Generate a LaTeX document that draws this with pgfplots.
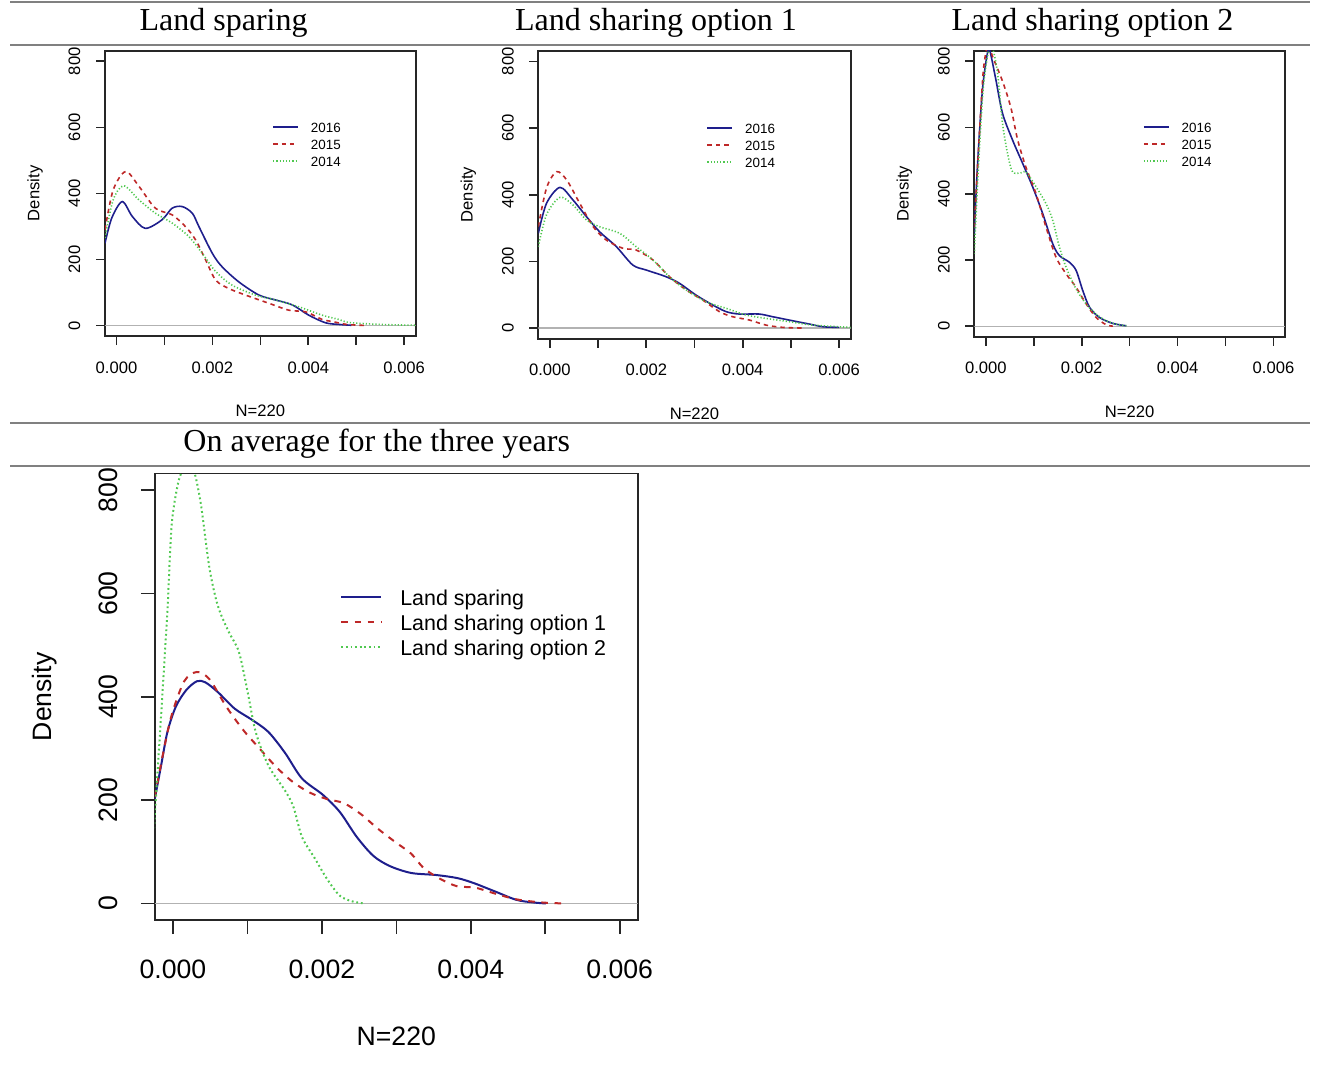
\documentclass[border=0pt]{standalone}
\usepackage{fontspec}
\setmainfont{Liberation Sans}
\newfontfamily\timesfont{Liberation Serif}
\usepackage{pgfplots}
\pgfplotsset{compat=1.18}
\definecolor{rblue}{RGB}{30,30,140}
\definecolor{rred}{RGB}{190,40,40}
\definecolor{rgreen}{RGB}{80,200,80}
\definecolor{rule}{RGB}{128,128,128}

\pgfplotsset{
  rdens/.style={
    scale only axis, anchor=north west,
    xmin=-0.00024, xmax=0.00624, ymin=-32, ymax=832,
    xtick={0,0.001,0.002,0.003,0.004,0.005,0.006},
    xticklabels={0.000,,0.002,,0.004,,0.006},
    ytick={0,200,400,600,800},
    tick pos=left, tick align=outside,
    scaled x ticks=false,
    /pgf/number format/assume math mode=true,
    axis line style={line width=0.9pt, black!85},
    tick style={line width=0.8pt, black!85},
    legend cell align=left,
    legend style={draw=none, fill=none, anchor=north west, inner sep=0pt, row sep=0pt},
  },
  topp/.style={
    rdens,
    major tick length=4.5pt,
    ticklabel style={font=\fontsize{8.3}{10}\selectfont, inner sep=0pt},
    xticklabel style={anchor=center, yshift=-11.25pt},
    yticklabel style={xshift=-10.75pt, rotate=90, anchor=center},
    every axis x label/.style={at={(axis description cs:0.5,0)}, anchor=center, yshift=-37.5pt, font=\fontsize{8.3}{10}\selectfont},
    every axis y label/.style={at={(axis description cs:0,0.5)}, xshift=-35pt, rotate=90, anchor=center, font=\fontsize{8.3}{10}\selectfont},
    legend style={font=\fontsize{6.7}{8}\selectfont,
      nodes={inner sep=0pt, text height=5.5pt, text depth=3pt},
      column sep=6pt},
    legend image code/.code={\draw[#1] (0pt,1.7pt) -- (12.5pt,1.7pt);},
    every axis plot/.append style={line width=0.8pt},
  },
  botp/.style={
    rdens,
    major tick length=7pt,
    ticklabel style={font=\fontsize{13.3}{16}\selectfont, inner sep=0pt},
    xticklabel style={anchor=center, yshift=-17.5pt},
    yticklabel style={xshift=-16.25pt, rotate=90, anchor=center},
    every axis x label/.style={at={(axis description cs:0.5,0)}, anchor=center, yshift=-58.3pt, font=\fontsize{13.3}{16}\selectfont},
    every axis y label/.style={at={(axis description cs:0,0.5)}, xshift=-55.25pt, rotate=90, anchor=center, font=\fontsize{13.3}{16}\selectfont},
    legend style={font=\fontsize{10.7}{13}\selectfont,
      nodes={inner sep=0pt, text height=8pt, text depth=4.5pt},
      column sep=9pt},
    legend image code/.code={\draw[#1] (0pt,2.7pt) -- (20pt,2.7pt);},
    every axis plot/.append style={line width=1pt},
  },
  s16/.style={rblue, solid, smooth},
  s15/.style={rred, dash pattern=on 2.2pt off 2pt, smooth},
  s14/.style={rgreen, dash pattern=on 0.6pt off 1pt, smooth},
}

\begin{document}
\begin{tikzpicture}
\useasboundingbox (0,0) rectangle (658.5pt,-538.5pt);

% rules of the table
\draw[rule, line width=1pt] (5pt,-1pt) -- (655pt,-1pt);
\draw[rule, line width=1pt] (5pt,-22.5pt) -- (655pt,-22.5pt);
\draw[rule, line width=1pt] (5pt,-211.5pt) -- (655pt,-211.5pt);
\draw[rule, line width=1pt] (5pt,-233pt) -- (655pt,-233pt);

% titles
\node[font=\timesfont\fontsize{16}{19}\selectfont, anchor=base] at (111.8pt,-15pt) {Land sparing};
\node[font=\timesfont\fontsize{16}{19}\selectfont, anchor=base] at (328pt,-15pt) {Land sharing option 1};
\node[font=\timesfont\fontsize{16}{19}\selectfont, anchor=base] at (546.25pt,-15pt) {Land sharing option 2};
\node[font=\timesfont\fontsize{16}{19}\selectfont, anchor=base] at (188.35pt,-225.8pt) {On average for the three years};

% Land sparing
\begin{axis}[topp, at={(52.5pt,-25.35pt)}, width=155.35pt, height=142.65pt,
  xlabel={N=220}, ylabel={Density},
  legend style={at={(axis cs:0.003242,618)}}]
\addplot[gray!60, line width=0.6pt, forget plot] coordinates {(-0.00024,0) (0.00624,0)};
\addplot[s16] coordinates {(-0.00024,249) (-0.0001,325) (0.00012,375) (0.00033,330) (0.0006,294) (0.00095,320) (0.00116,355) (0.00137,360) (0.00158,340) (0.00172,299) (0.002,218) (0.0022,178) (0.00255,132) (0.00297,92) (0.00332,77) (0.00367,62) (0.00401,31) (0.00436,8) (0.00464,3) (0.0049,0.5)};
\addlegendentry{2016}
\addplot[s15] coordinates {(-0.00024,290) (-0.00007,410) (0.00019,466) (0.00047,421) (0.00081,355) (0.00116,335) (0.00144,299) (0.00165,259) (0.00186,198) (0.00207,137) (0.00234,112) (0.00269,92) (0.00318,67) (0.0036,46) (0.00395,41) (0.00429,18) (0.0045,12) (0.0048,3) (0.0052,0)};
\addlegendentry{2015}
\addplot[s14] coordinates {(-0.00024,265) (-0.00007,380) (0.00015,423) (0.00047,380) (0.00081,340) (0.00116,310) (0.00151,269) (0.00179,218) (0.00207,163) (0.00241,122) (0.0029,92) (0.00332,77) (0.00381,56) (0.00429,31) (0.00464,18) (0.00485,9) (0.0055,3) (0.00624,0.5)};
\addlegendentry{2014}
\end{axis}

% Land sharing option 1
\begin{axis}[topp, at={(269.15pt,-25.35pt)}, width=156.2pt, height=144pt,
  xlabel={N=220}, ylabel={Density},
  legend style={at={(axis cs:0.003242,617)}}]
\addplot[gray!60, line width=0.6pt, forget plot] coordinates {(-0.00024,0) (0.00624,0)};
\addplot[s16] coordinates {(-0.00024,284) (-0.00007,374) (0.00021,422) (0.00048,384) (0.00076,334) (0.00103,289) (0.00138,244) (0.00172,189) (0.002,174) (0.00241,154) (0.00269,134) (0.00303,99) (0.00338,69) (0.00366,49) (0.00393,42) (0.00434,42) (0.00462,34) (0.00503,22) (0.00538,12) (0.00566,4) (0.006,2)};
\addlegendentry{2016}
\addplot[s15] coordinates {(-0.00024,304) (-0.00007,420) (0.00014,469) (0.00035,444) (0.00062,374) (0.0009,304) (0.00117,264) (0.00152,239) (0.00179,234) (0.00214,204) (0.00248,154) (0.00283,114) (0.00317,84) (0.00352,49) (0.00379,34) (0.00414,24) (0.00448,9) (0.00483,2) (0.00524,0)};
\addlegendentry{2015}
\addplot[s14] coordinates {(-0.00024,244) (-0.00007,340) (0.00021,392) (0.00048,369) (0.00076,324) (0.00103,304) (0.00145,284) (0.00179,244) (0.00214,204) (0.00248,154) (0.00283,114) (0.00324,79) (0.00366,59) (0.00407,39) (0.00448,29) (0.00497,19) (0.00545,9) (0.00624,2)};
\addlegendentry{2014}
\end{axis}

% Land sharing option 2
\begin{axis}[topp, at={(487.15pt,-25.35pt)}, width=155.35pt, height=143pt,
  xlabel={N=220}, ylabel={Density},
  legend style={at={(axis cs:0.003272,618)}}]
\addplot[gray!60, line width=0.6pt, forget plot] coordinates {(-0.00024,0) (0.00624,0)};
\addplot[s16] coordinates {(-0.00024,279) (-0.000175,481) (-0.00007,714) (0.000034,825) (0.000083,833) (0.000209,745) (0.000348,643) (0.000558,562) (0.000767,492) (0.000976,421) (0.001186,340) (0.001395,249) (0.001535,213) (0.001744,193) (0.001884,168) (0.002023,107) (0.002163,57) (0.002372,26) (0.002652,8) (0.002931,1)};
\addlegendentry{2016}
\addplot[s15] coordinates {(-0.00024,299) (-0.00014,562) (-0.000056,765) (0.00002,840) (0.00006,850) (0.000139,815) (0.000348,740) (0.000523,660) (0.00066,565) (0.000837,480) (0.001047,400) (0.001256,299) (0.001465,208) (0.001674,158) (0.001884,117) (0.002093,67) (0.002302,26) (0.002512,4) (0.00265,0)};
\addlegendentry{2015}
\addplot[s14] coordinates {(-0.00024,218) (-0.000154,481) (-0.000056,714) (0.000055,830) (0.000139,840) (0.000244,765) (0.000348,613) (0.000453,522) (0.000558,466) (0.000732,463) (0.000837,466) (0.001047,421) (0.001256,370) (0.001395,320) (0.001535,239) (0.001674,178) (0.001884,112) (0.002093,67) (0.002302,36) (0.002512,16) (0.00272,6) (0.00293,1)};
\addlegendentry{2014}
\end{axis}

% On average for the three years
\begin{axis}[botp, at={(77.5pt,-236.75pt)}, width=241.3pt, height=223.25pt,
  xlabel={N=220}, ylabel={Density},
  s15/.style={rred, dash pattern=on 3.3pt off 3.3pt, smooth},
  s14/.style={rgreen, dash pattern=on 0.9pt off 1.4pt, smooth},
  legend style={at={(axis cs:0.002243,608)}}]
\addplot[gray!60, line width=0.8pt, forget plot] coordinates {(-0.00024,0) (0.00624,0)};
\addplot[s16] coordinates {(-0.000243,202) (-0.000158,267) (-0.000073,332) (0.00004,381) (0.00018,413) (0.000322,430) (0.000435,428) (0.000604,409) (0.00083,377) (0.001056,356) (0.001282,332) (0.001508,291) (0.001733,242) (0.002016,210) (0.002242,177) (0.002468,129) (0.002693,92) (0.002919,72) (0.003202,59) (0.00354,55) (0.003823,49) (0.004049,39) (0.00433,23) (0.004613,7) (0.004839,2) (0.00501,0)};
\addlegendentry{Land sparing}
\addplot[s15] coordinates {(-0.000243,206) (-0.00013,291) (-0.000017,364) (0.000152,430) (0.000322,448) (0.000491,434) (0.000717,381) (0.000943,336) (0.001169,299) (0.001395,263) (0.001621,234) (0.001846,214) (0.002072,202) (0.002298,194) (0.002524,173) (0.00275,145) (0.002976,120) (0.003202,96) (0.003371,68) (0.003597,47) (0.003823,33) (0.004049,31) (0.004331,19) (0.004613,8) (0.004952,2) (0.00526,0)};
\addlegendentry{Land sharing option 1}
\addplot[s14] coordinates {(-0.000254,145) (-0.000158,364) (-0.000073,568) (-0.000017,731) (0.000068,812) (0.00015,845) (0.00022,855) (0.000294,832) (0.000378,771) (0.000491,649) (0.000604,576) (0.000745,527) (0.000886,487) (0.000999,413) (0.001112,332) (0.001282,267) (0.001508,218) (0.001621,186) (0.001733,129) (0.001903,88) (0.002072,47) (0.002242,15) (0.002411,4) (0.00258,0)};
\addlegendentry{Land sharing option 2}
\end{axis}
\end{tikzpicture}
\end{document}
